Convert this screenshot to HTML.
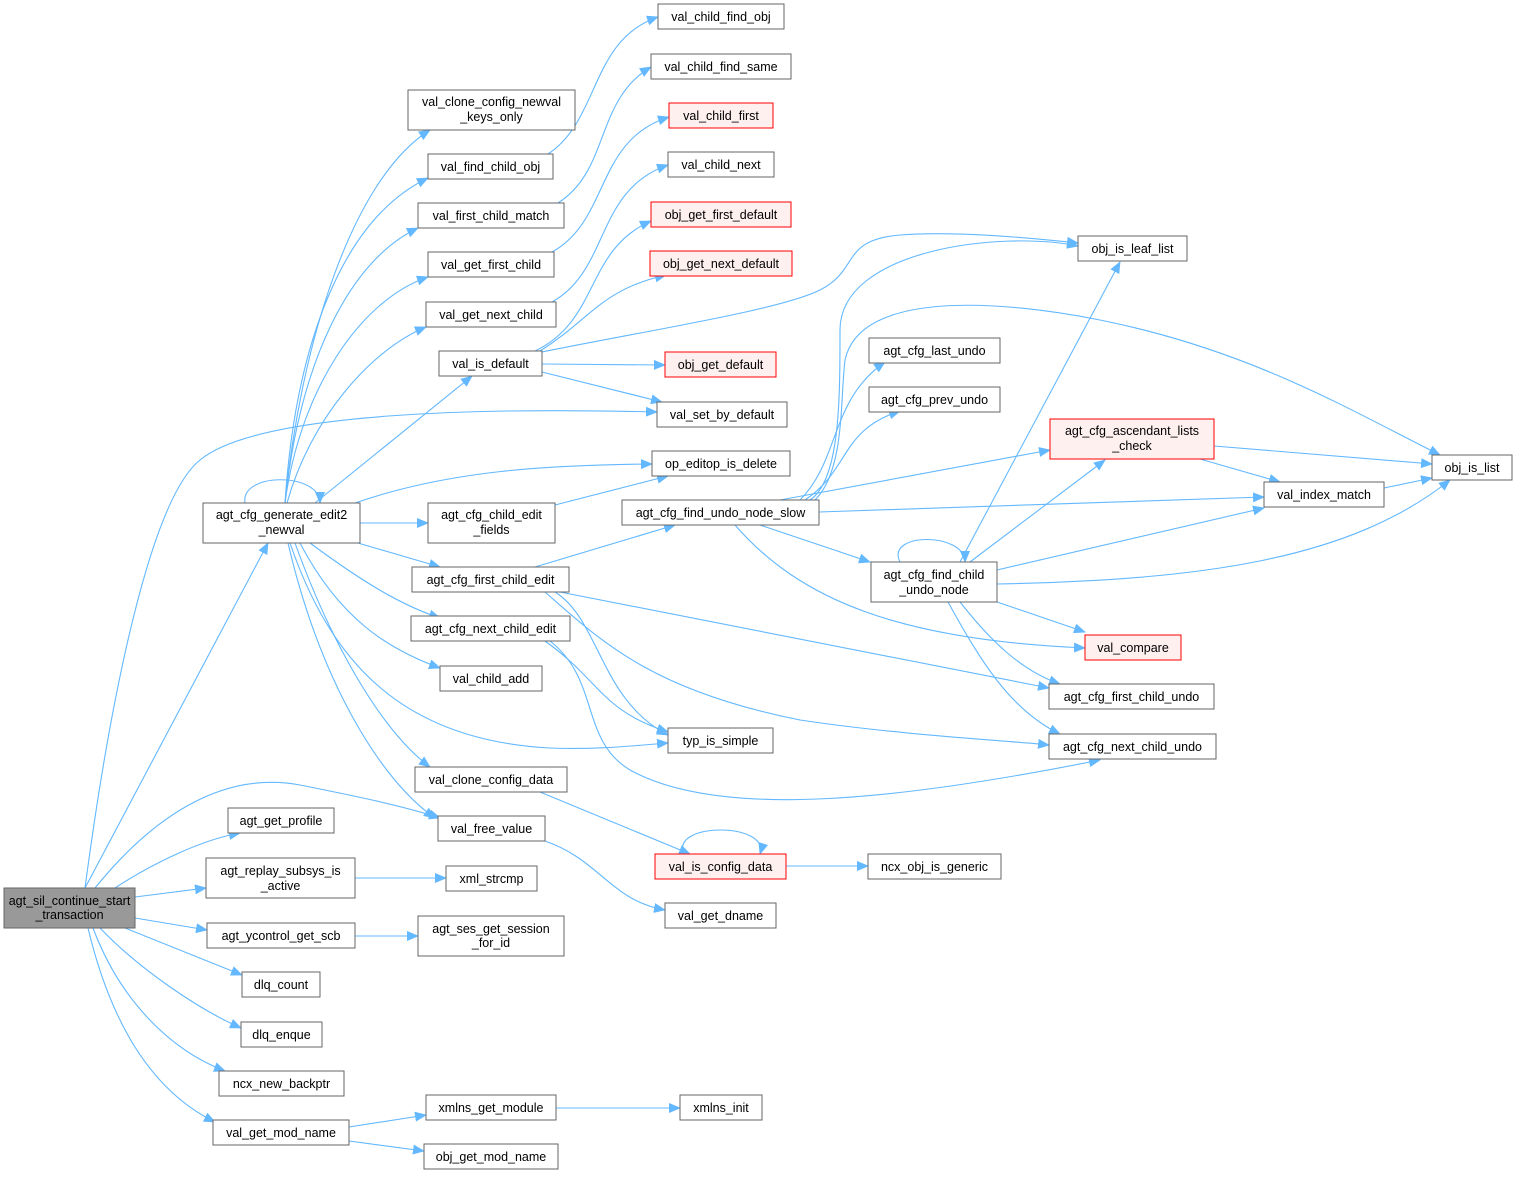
<!DOCTYPE html>
<html><head><meta charset="utf-8"><style>
body{margin:0;background:#fff}
svg text{font-family:"Liberation Sans",Arial,sans-serif;font-size:12.5px;fill:#000}
</style></head><body>
<svg width="1517" height="1176" viewBox="0 0 1517 1176" xmlns="http://www.w3.org/2000/svg">
<defs><marker id="a" markerWidth="12" markerHeight="10" refX="11" refY="5" orient="auto" markerUnits="userSpaceOnUse"><path d="M0,0 L12,5 L0,10 z" fill="#63b8ff"/></marker></defs>
<g fill="none" stroke="#63b8ff" stroke-width="1.1" marker-end="url(#a)">
<path d="M85,888 L268,543"/>
<path d="M85,888 C110,700 150,500 200,460 C260,410 500,408 657,412"/>
<path d="M95,888 C150,820 220,770 300,785 C350,795 400,805 440,818"/>
<path d="M115,888 C150,865 200,840 240,833"/>
<path d="M135,897 L206,888"/>
<path d="M135,918 L207,930"/>
<path d="M125,928 L242,975"/>
<path d="M100,928 C140,970 200,1010 241,1028"/>
<path d="M93,928 C120,1000 170,1050 225,1071"/>
<path d="M88,928 C110,1020 150,1090 215,1122"/>
<path d="M285,503 C300,350 350,180 430,130"/>
<path d="M285,503 C295,350 340,220 428,178"/>
<path d="M285,503 C300,360 350,260 418,228"/>
<path d="M285,503 C300,390 360,300 428,277"/>
<path d="M287,503 C310,420 370,350 426,327"/>
<path d="M315,503 L472,376"/>
<path d="M245,503 C240,472 320,472 320,503"/>
<path d="M355,503 C450,470 550,465 652,464"/>
<path d="M360,523 L428,523"/>
<path d="M358,543 L440,567"/>
<path d="M310,543 C360,580 400,605 440,618"/>
<path d="M300,543 C340,620 390,650 440,668"/>
<path d="M290,543 C330,660 400,740 550,748 C600,750 640,745 668,743"/>
<path d="M295,543 C330,640 380,730 430,767"/>
<path d="M288,543 C320,680 380,780 435,818"/>
<path d="M548,154 C600,120 590,40 658,17"/>
<path d="M558,203 C610,170 595,100 651,67"/>
<path d="M552,252 C610,220 595,140 669,117"/>
<path d="M552,302 C610,270 595,190 668,165"/>
<path d="M535,351 C600,320 585,250 651,221"/>
<path d="M540,351 C590,320 600,290 666,275"/>
<path d="M542,352 C650,330 780,310 820,290 C860,270 840,240 900,235 C960,230 1050,240 1078,243"/>
<path d="M542,364 L665,365"/>
<path d="M542,372 L662,402"/>
<path d="M555,505 L668,476"/>
<path d="M535,567 L675,525"/>
<path d="M555,592 C600,620 600,700 668,735"/>
<path d="M560,592 L1049,688"/>
<path d="M545,592 C600,640 650,690 800,720 C900,735 1000,740 1049,745"/>
<path d="M545,641 C600,680 600,710 668,732"/>
<path d="M550,641 C600,680 580,740 630,770 C720,820 900,800 1100,760"/>
<path d="M540,792 L690,854"/>
<path d="M545,841 C600,860 610,900 665,910"/>
<path d="M684,854 C670,822 770,822 760,854"/>
<path d="M786,866 L868,866"/>
<path d="M355,878 L446,878"/>
<path d="M355,936 L418,936"/>
<path d="M349,1127 L426,1115"/>
<path d="M349,1141 L424,1151"/>
<path d="M556,1108 L680,1108"/>
<path d="M810,500 C840,480 840,400 840,330 C840,250 1000,230 1078,246"/>
<path d="M815,500 C845,470 840,400 845,360 C860,290 1000,300 1100,320 C1250,350 1350,410 1440,455"/>
<path d="M800,500 C840,460 830,400 885,362"/>
<path d="M805,500 C850,470 840,430 900,411"/>
<path d="M780,500 L1050,450"/>
<path d="M819,512 L1264,497"/>
<path d="M760,525 L870,562"/>
<path d="M735,525 C800,600 900,640 1085,648"/>
<path d="M900,562 C885,532 965,532 965,562"/>
<path d="M960,562 L1120,262"/>
<path d="M970,562 L1105,460"/>
<path d="M997,570 L1264,508"/>
<path d="M997,584 C1200,580 1350,560 1450,480"/>
<path d="M997,602 L1085,632"/>
<path d="M960,602 C990,640 1020,670 1060,684"/>
<path d="M948,602 C980,660 1010,710 1060,734"/>
<path d="M1214,446 L1432,464"/>
<path d="M1200,459 L1280,482"/>
<path d="M1384,488 L1432,478"/>
</g>
<g stroke-width="1">
<rect x="4" y="888" width="131" height="40" fill="#999" stroke="#666"/>
<g fill="#fff" stroke="#666">
<rect x="203" y="503" width="157" height="40"/>
<rect x="408" y="90" width="167" height="40"/>
<rect x="428" y="154" width="125" height="25"/>
<rect x="418" y="203" width="146" height="25"/>
<rect x="428" y="252" width="126" height="25"/>
<rect x="426" y="302" width="130" height="25"/>
<rect x="439" y="351" width="103" height="25"/>
<rect x="657" y="402" width="130" height="25"/>
<rect x="428" y="503" width="127" height="40"/>
<rect x="652" y="451" width="138" height="25"/>
<rect x="412" y="567" width="157" height="25"/>
<rect x="411" y="616" width="159" height="25"/>
<rect x="440" y="666" width="102" height="25"/>
<rect x="415" y="767" width="152" height="25"/>
<rect x="438" y="816" width="107" height="25"/>
<rect x="228" y="808" width="106" height="25"/>
<rect x="206" y="858" width="149" height="40"/>
<rect x="446" y="866" width="91" height="25"/>
<rect x="207" y="923" width="148" height="25"/>
<rect x="418" y="916" width="146" height="40"/>
<rect x="242" y="972" width="78" height="25"/>
<rect x="241" y="1022" width="81" height="25"/>
<rect x="219" y="1071" width="125" height="25"/>
<rect x="213" y="1120" width="136" height="25"/>
<rect x="426" y="1095" width="130" height="25"/>
<rect x="424" y="1144" width="134" height="25"/>
<rect x="680" y="1095" width="82" height="25"/>
<rect x="658" y="4" width="126" height="25"/>
<rect x="651" y="54" width="140" height="25"/>
<rect x="668" y="152" width="106" height="25"/>
<rect x="622" y="500" width="197" height="25"/>
<rect x="668" y="728" width="105" height="25"/>
<rect x="665" y="903" width="111" height="25"/>
<rect x="868" y="854" width="133" height="25"/>
<rect x="869" y="338" width="131" height="25"/>
<rect x="869" y="387" width="131" height="25"/>
<rect x="871" y="562" width="126" height="40"/>
<rect x="1049" y="684" width="165" height="25"/>
<rect x="1049" y="734" width="167" height="25"/>
<rect x="1078" y="236" width="109" height="25"/>
<rect x="1264" y="482" width="120" height="25"/>
<rect x="1432" y="455" width="80" height="25"/>
</g>
<g fill="#fff0f0" stroke="#f00">
<rect x="669" y="103" width="104" height="25"/>
<rect x="651" y="202" width="140" height="25"/>
<rect x="650" y="251" width="142" height="25"/>
<rect x="665" y="352" width="111" height="25"/>
<rect x="655" y="854" width="131" height="25"/>
<rect x="1050" y="419" width="164" height="40"/>
<rect x="1085" y="635" width="96" height="25"/>
</g>
</g>
<g text-anchor="middle">
<text x="69.5" y="905">agt_sil_continue_start</text><text x="69.5" y="919">_transaction</text>
<text x="281.5" y="519">agt_cfg_generate_edit2</text><text x="281.5" y="534">_newval</text>
<text x="491.5" y="106">val_clone_config_newval</text><text x="491.5" y="121">_keys_only</text>
<text x="490.5" y="171">val_find_child_obj</text>
<text x="491" y="220">val_first_child_match</text>
<text x="491" y="269">val_get_first_child</text>
<text x="491" y="319">val_get_next_child</text>
<text x="490.5" y="368">val_is_default</text>
<text x="722" y="419">val_set_by_default</text>
<text x="491.5" y="519">agt_cfg_child_edit</text><text x="491.5" y="534">_fields</text>
<text x="721" y="468">op_editop_is_delete</text>
<text x="490.5" y="584">agt_cfg_first_child_edit</text>
<text x="490.5" y="633">agt_cfg_next_child_edit</text>
<text x="491" y="683">val_child_add</text>
<text x="491" y="784">val_clone_config_data</text>
<text x="491.5" y="833">val_free_value</text>
<text x="281" y="825">agt_get_profile</text>
<text x="280.5" y="875">agt_replay_subsys_is</text><text x="280.5" y="890">_active</text>
<text x="491.5" y="883">xml_strcmp</text>
<text x="281" y="940">agt_ycontrol_get_scb</text>
<text x="491" y="933">agt_ses_get_session</text><text x="491" y="947">_for_id</text>
<text x="281" y="989">dlq_count</text>
<text x="281.5" y="1039">dlq_enque</text>
<text x="281.5" y="1088">ncx_new_backptr</text>
<text x="281" y="1137">val_get_mod_name</text>
<text x="491" y="1112">xmlns_get_module</text>
<text x="491" y="1161">obj_get_mod_name</text>
<text x="721" y="1112">xmlns_init</text>
<text x="721" y="21">val_child_find_obj</text>
<text x="721" y="71">val_child_find_same</text>
<text x="721" y="120">val_child_first</text>
<text x="721" y="169">val_child_next</text>
<text x="721" y="219">obj_get_first_default</text>
<text x="721" y="268">obj_get_next_default</text>
<text x="720.5" y="369">obj_get_default</text>
<text x="720.5" y="517">agt_cfg_find_undo_node_slow</text>
<text x="720.5" y="745">typ_is_simple</text>
<text x="720.5" y="871">val_is_config_data</text>
<text x="720.5" y="920">val_get_dname</text>
<text x="934.5" y="871">ncx_obj_is_generic</text>
<text x="934.5" y="355">agt_cfg_last_undo</text>
<text x="934.5" y="404">agt_cfg_prev_undo</text>
<text x="1132" y="435">agt_cfg_ascendant_lists</text><text x="1132" y="450">_check</text>
<text x="934" y="579">agt_cfg_find_child</text><text x="934" y="594">_undo_node</text>
<text x="1133" y="652">val_compare</text>
<text x="1131.5" y="701">agt_cfg_first_child_undo</text>
<text x="1132.5" y="751">agt_cfg_next_child_undo</text>
<text x="1132.5" y="253">obj_is_leaf_list</text>
<text x="1324" y="499">val_index_match</text>
<text x="1472" y="472">obj_is_list</text>
</g>
</svg>
</body></html>
